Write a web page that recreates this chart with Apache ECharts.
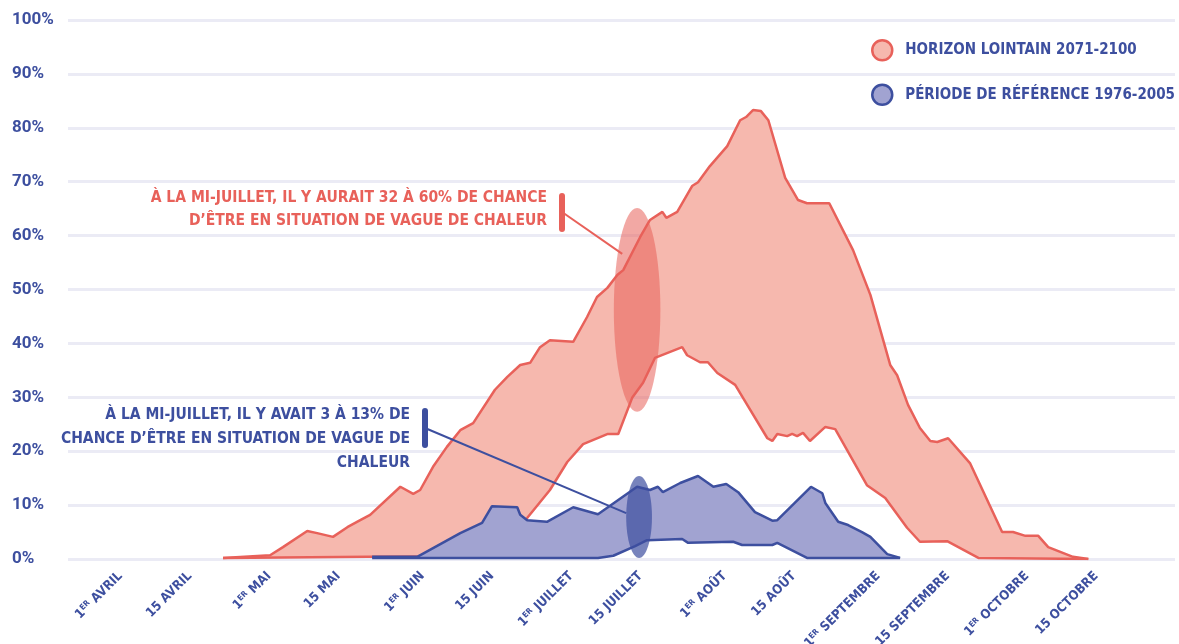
<!DOCTYPE html>
<html lang="fr">
<head>
<meta charset="UTF-8" />
<title>Vagues de chaleur</title>
<script src="https://cdn.jsdelivr.net/npm/echarts@6/dist/echarts.min.js"></script>
</head>
<body style="margin:0">
<div id="main" style="width:1179px;height:644px"></div>
<script>
// jours comptés depuis le 1er avril (jour 0)
var tickDays = [0, 14, 30, 44, 61, 75, 91, 105, 122, 136, 153, 167, 183, 197];
var tickLabels = ["1ER AVRIL", "15 AVRIL", "1ER MAI", "15 MAI", "1ER JUIN", "15 JUIN",
  "1ER JUILLET", "15 JUILLET", "1ER AOÛT", "15 AOÛT", "1ER SEPTEMBRE",
  "15 SEPTEMBRE", "1ER OCTOBRE", "15 OCTOBRE"];

var nameFar = "HORIZON LOINTAIN 2071-2100";
var nameRef = "PÉRIODE DE RÉFÉRENCE 1976-2005";

// horizon lointain : borne haute / basse [jour, %]
var farHigh = [[20.7,0.2],[30.2,0.7],[32.8,2.2],[37.7,5.2],[39.7,4.8],[42.9,4.1],[45.8,5.9],
  [48.4,7.2],[50.4,8.2],[56.5,13.4],[59.1,12.1],[60.5,12.8],[63.1,17.1],[65.9,20.8],
  [68.6,23.9],[71.2,25.2],[75.6,31.4],[78.1,33.8],[80.7,36.0],[82.7,36.4],[84.7,39.3],
  [86.7,40.6],[91.4,40.3],[94.2,44.9],[96.2,48.6],[98.3,50.3],[100.3,52.7],[101.5,53.6],
  [104.9,59.7],[106.9,62.9],[109.4,64.4],[110.2,63.3],[112.4,64.4],[115.4,69.2],
  [116.6,69.9],[119.0,72.9],[122.5,76.6],[125.1,81.4],[126.3,82.0],[127.7,83.3],
  [129.3,83.1],[130.8,81.4],[134.2,70.7],[136.8,66.6],[138.6,66.0],[143.1,66.0],
  [147.9,57.3],[151.4,49.0],[155.4,36.0],[156.8,34.1],[159.0,28.6],[161.4,24.3],
  [163.5,21.9],[164.9,21.7],[167.1,22.4],[171.5,17.8],[178.0,5.0],[180.2,5.0],
  [182.7,4.3],[185.3,4.3],[187.3,2.2],[192.3,0.4],[195.4,0]];
var farLow = [[20.7,0.2],[50,0.4],[74,0.5],[78,3.5],[82.1,7.6],[86.7,12.8],[90.2,18.0],
  [93.4,21.3],[98.4,23.2],[100.5,23.2],[103.3,29.9],[105.5,32.7],[107.9,37.3],
  [113.4,39.3],[114.4,37.8],[117.0,36.5],[118.6,36.5],[120.5,34.5],[124.1,32.3],
  [130.6,22.4],[131.6,21.9],[132.6,23.2],[134.6,22.8],[135.6,23.2],[136.6,22.8],
  [137.8,23.4],[139.2,21.9],[142.3,24.5],[144.3,24.1],[150.7,13.7],[154.4,11.3],
  [158.8,5.8],[161.4,3.2],[166.9,3.3],[173.2,0.2],[195.4,0]];

// période de référence : borne haute / basse [jour, %]
var refHigh = [[50.8,0.4],[59.9,0.4],[68.6,4.8],[73.0,6.7],[75.0,9.8],[80.1,9.6],[80.7,8.2],
  [82.1,7.2],[86.1,6.9],[91.4,9.6],[96.4,8.3],[104.3,13.4],[106.9,12.8],[108.5,13.4],
  [109.5,12.4],[113.0,14.1],[116.6,15.4],[119.7,13.4],[122.3,13.9],[124.7,12.4],
  [128.1,8.7],[131.6,7.1],[132.6,7.2],[139.4,13.4],[141.7,12.2],[142.3,10.4],
  [144.9,6.9],[146.9,6.3],[149.7,5.0],[151.4,4.1],[154.8,0.9],[157.4,0.2]];
var refLow = [[50.8,0.2],[96.4,0.2],[99.5,0.6],[103.9,2.4],[106.3,3.5],[113.4,3.7],
  [114.6,3.0],[123.7,3.2],[125.5,2.6],[131.6,2.6],[132.6,3.0],[138.6,0.2],[157.4,0.2]];

var RED = "#e8615a", PINK = "#f6b8ae", BLUE = "#3d4f9f", LAVENDER = "#a1a3d1";
var NARROW = "'DejaVu Sans Condensed', Roboto, sans-serif";

var chart = echarts.init(document.getElementById("main"));

function band(high, low, fill) {
  return function (params, api) {
    if (params.dataIndex !== 0) return null;
    var pts = high.map(function (p) { return api.coord(p); })
      .concat(low.slice().reverse().map(function (p) { return api.coord(p); }));
    return { type: "polygon", shape: { points: pts }, style: { fill: fill } };
  };
}

function edge(name, data, color, z) {
  return {
    name: name, type: "line", data: data, z: z, showSymbol: false, silent: true,
    lineStyle: { color: color, width: 2.5 }, itemStyle: { color: color }
  };
}

chart.setOption({
  animation: false,
  grid: { left: 68, right: 4, top: 20, bottom: 85, containLabel: false, outerBoundsMode: "none" },
  legend: {
    orient: "vertical", left: 866, top: 34, itemGap: 22, itemWidth: 20, itemHeight: 20,
    icon: "circle",
    textStyle: { color: BLUE, fontFamily: NARROW, fontWeight: "bold", fontSize: 15, padding: [0, 0, 0, 8] },
    data: [
      { name: nameFar, itemStyle: { color: PINK, borderColor: RED, borderWidth: 2.5 } },
      { name: nameRef, itemStyle: { color: LAVENDER, borderColor: BLUE, borderWidth: 2.5 } }
    ]
  },
  xAxis: {
    type: "value", min: -10.6, max: 212.9,
    axisLine: { show: false }, axisTick: { show: false }, splitLine: { show: false },
    axisLabel: {
      customValues: tickDays, rotate: 45, margin: 15, color: BLUE,
      fontFamily: NARROW, fontWeight: "bold", fontSize: 13,
      formatter: function (v) {
        var t = tickLabels[tickDays.indexOf(Math.round(v))] || "";
        if (t.indexOf("1ER ") === 0) return "{n|1}{s|ER}{n| " + t.slice(4) + "}";
        return "{n|" + t + "}";
      },
      rich: {
        n: { color: BLUE, fontFamily: NARROW, fontWeight: "bold", fontSize: 13 },
        s: { color: BLUE, fontFamily: NARROW, fontWeight: "bold", fontSize: 8, verticalAlign: "top", padding: [0, 0, 6, 0] }
      }
    }
  },
  yAxis: {
    type: "value", min: 0, max: 100, interval: 10,
    axisLine: { show: false }, axisTick: { show: false },
    axisLabel: { formatter: "{value}%", align: "left", margin: 56, color: BLUE, fontFamily: "Roboto", fontWeight: "bold", fontSize: 17 },
    splitLine: { lineStyle: { color: "#ebebf5", width: 3 } }
  },
  series: [
    { name: nameFar, type: "custom", data: farHigh, z: 2, silent: true, renderItem: band(farHigh, farLow, PINK), itemStyle: { color: PINK } },
    edge(nameFar, farHigh, RED, 3),
    edge(nameFar, farLow, RED, 3),
    { name: nameRef, type: "custom", data: refHigh, z: 4, silent: true, renderItem: band(refHigh, refLow, LAVENDER), itemStyle: { color: LAVENDER } },
    edge(nameRef, refHigh, BLUE, 5),
    edge(nameRef, refLow, BLUE, 5)
  ]
});

// annotations : ellipses autour de la mi-juillet
function px(d, v) { return chart.convertToPixel({ gridIndex: 0 }, [d, v]); }
function spot(day, halfDays, low, high) {
  var c = px(day, (low + high) / 2), t = px(day, high), r = px(day + halfDays, 0);
  return { cx: c[0], cy: c[1], rx: r[0] - c[0], ry: c[1] - t[1] };
}
var redSpot = spot(104.3, 4.7, 27.3, 65.1);
var blueSpot = spot(104.7, 2.6, 0.2, 15.4);
var redEnd = px(101.3, 56.6);
var blueEnd = px(102.1, 8.5);
var noteFont = "bold 15.5px 'DejaVu Sans Condensed', Roboto, sans-serif";

chart.setOption({
  graphic: [
    { type: "ellipse", z: 100, shape: redSpot, style: { fill: "rgba(232,97,90,0.55)" } },
    { type: "ellipse", z: 100, shape: blueSpot, style: { fill: "rgba(61,79,159,0.7)" } },
    { type: "line", z: 101, shape: { x1: 562, y1: 212, x2: redEnd[0], y2: redEnd[1] }, style: { stroke: RED, lineWidth: 2 } },
    { type: "rect", z: 101, shape: { x: 559, y: 193, width: 6, height: 39, r: 3 }, style: { fill: RED } },
    { type: "line", z: 101, shape: { x1: 425, y1: 428, x2: blueEnd[0], y2: blueEnd[1] }, style: { stroke: BLUE, lineWidth: 2 } },
    { type: "rect", z: 101, shape: { x: 422, y: 408, width: 6, height: 40, r: 3 }, style: { fill: BLUE } },
    {
      type: "text", z: 101, x: 547, y: 186,
      style: {
        text: "À LA MI-JUILLET, IL Y AURAIT 32 À 60% DE CHANCE\nD’ÊTRE EN SITUATION DE VAGUE DE CHALEUR",
        align: "right", verticalAlign: "top", lineHeight: 23, fill: RED, font: noteFont
      }
    },
    {
      type: "text", z: 101, x: 410, y: 403,
      style: {
        text: "À LA MI-JUILLET, IL Y AVAIT 3 À 13% DE\nCHANCE D’ÊTRE EN SITUATION DE VAGUE DE\nCHALEUR",
        align: "right", verticalAlign: "top", lineHeight: 24, fill: BLUE, font: noteFont
      }
    }
  ]
});
</script>
</body>
</html>
